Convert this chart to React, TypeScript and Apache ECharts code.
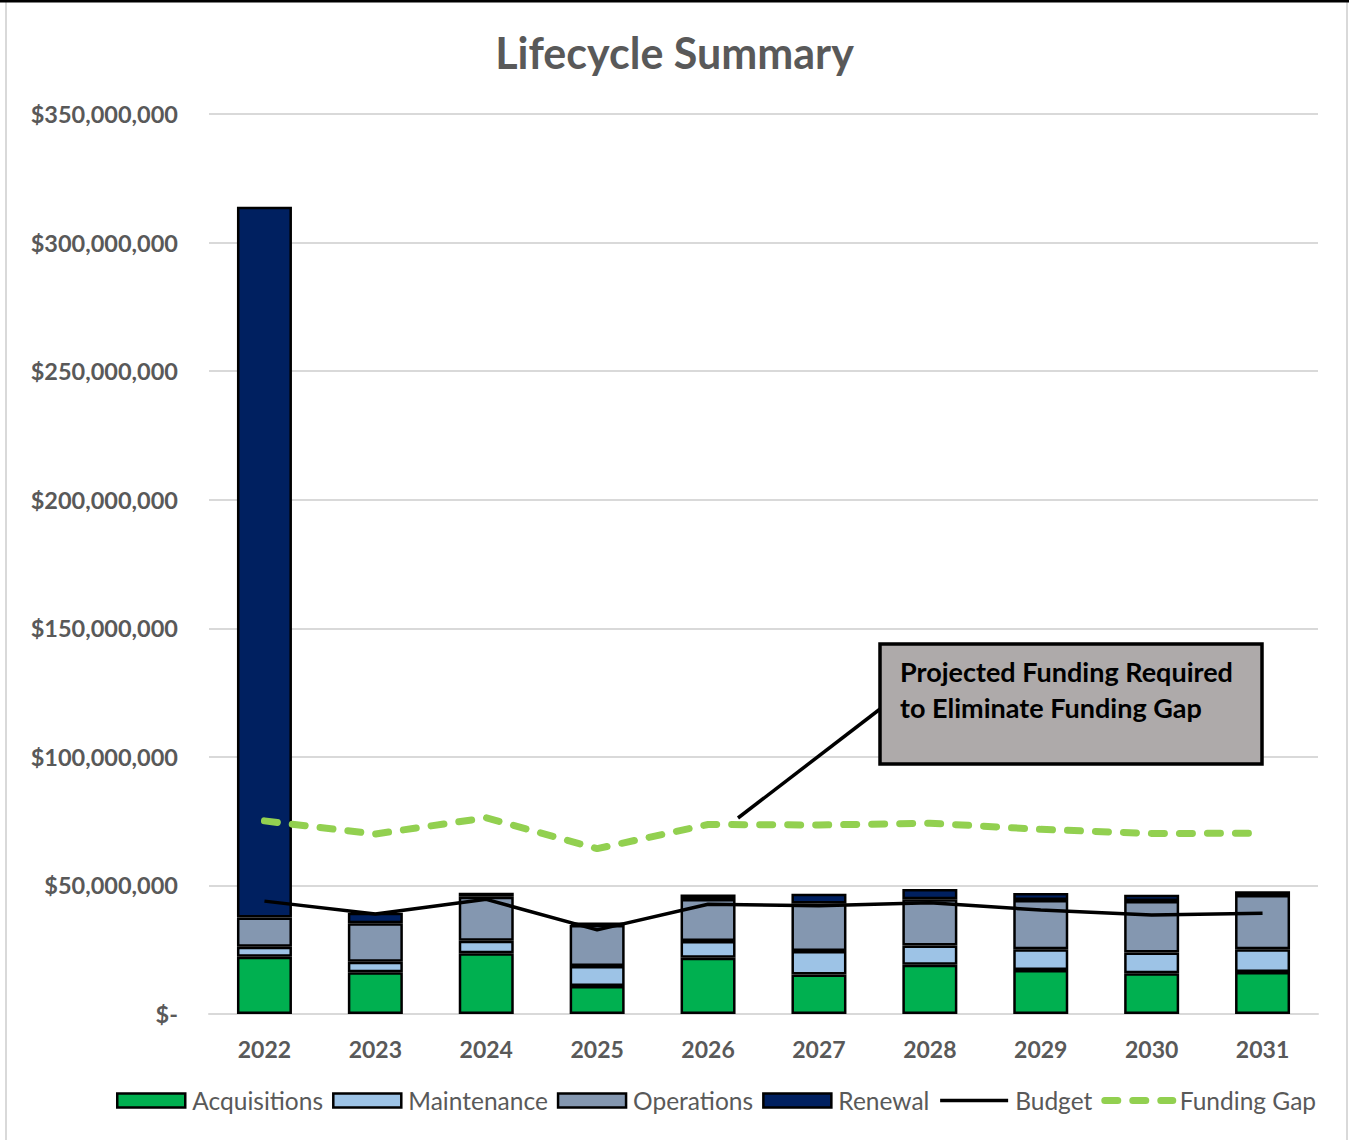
import React, { useEffect, useRef } from "react";
import * as echarts from "echarts";

const years = ["2022", "2023", "2024", "2025", "2026", "2027", "2028", "2029", "2030", "2031"];

// Stacked cost components, in dollars
const acquisitions = [22300000, 16200000, 23600000, 10900000, 21900000, 15400000, 19200000, 17100000, 15800000, 16300000];
const maintenance = [3900000, 4100000, 4900000, 7800000, 6500000, 9100000, 7400000, 8100000, 8100000, 8900000];
const operations = [11300000, 15000000, 17100000, 15900000, 16300000, 18500000, 18000000, 19100000, 20000000, 21100000];
const renewal = [276400000, 4100000, 1600000, 900000, 1800000, 3800000, 4000000, 2800000, 2500000, 1400000];

// Lines
const budget = [43900000, 38900000, 44600000, 32700000, 42700000, 42100000, 43300000, 40400000, 38500000, 39200000];
const fundingGap = [75100000, 70000000, 76300000, 64300000, 73700000, 73500000, 74200000, 71800000, 70200000, 70300000];

const axisTicks = { min: 0, max: 350000000, interval: 50000000 };

const FONT = "Lato, 'Open Sans', sans-serif";
const GREY_TEXT = "#595959";

const COLORS = {
  acquisitions: "#00b050",
  maintenance: "#9dc3e6",
  operations: "#8497b0",
  renewal: "#002060",
  budget: "#000000",
  gap: "#92d050",
};

const gapDash = [13, 15];

function formatDollars(v: number): string {
  if (v === 0) return "$-";
  return "$" + v.toLocaleString("en-US");
}

export default function App() {
  const ref = useRef<HTMLDivElement>(null);

  useEffect(() => {
    if (!ref.current) return;
    const chart = echarts.init(ref.current, null, { renderer: "svg" });

    const barSeries = (name: string, data: number[], color: string) => ({
      name,
      type: "bar",
      stack: "cost",
      data,
      barWidth: 55,
      itemStyle: { color, borderColor: "#000000", borderWidth: 2.5 },
      z: 2,
    });

    const barLegend = (name: string, color: string) => ({
      name,
      icon: "rect",
      itemStyle: { color, borderColor: "#000000", borderWidth: 2.5 },
    });

    const hiddenSymbol = { color: "rgba(0,0,0,0)", borderColor: "rgba(0,0,0,0)", borderWidth: 0 };

    chart.setOption({
      animation: false,
      backgroundColor: "#ffffff",
      title: {
        text: "Lifecycle Summary",
        left: "center",
        top: 26,
        textStyle: { fontFamily: FONT, fontSize: 43, fontWeight: "bold", color: GREY_TEXT },
      },
      grid: { left: 209, right: 31, top: 114, bottom: 126 },
      legend: {
        left: 111,
        top: 1083,
        itemWidth: 68,
        itemHeight: 14,
        itemGap: 9,
        textStyle: { fontFamily: FONT, fontSize: 24.5, color: GREY_TEXT, padding: [0, 0, 0, 2] },
        data: [
          barLegend("Acquisitions", COLORS.acquisitions),
          barLegend("Maintenance", COLORS.maintenance),
          barLegend("Operations", COLORS.operations),
          barLegend("Renewal", COLORS.renewal),
          {
            name: "Budget",
            itemStyle: hiddenSymbol,
            lineStyle: { color: COLORS.budget, width: 3.5, type: "solid" },
          },
          {
            name: "Funding Gap",
            itemStyle: hiddenSymbol,
            lineStyle: { color: COLORS.gap, width: 7, type: gapDash, cap: "round" },
          },
        ],
      },
      xAxis: {
        type: "category",
        data: years,
        axisLine: { show: true, lineStyle: { color: "#d9d9d9", width: 2 } },
        axisTick: { show: false },
        axisLabel: {
          fontFamily: FONT,
          fontSize: 23,
          fontWeight: "bold",
          color: GREY_TEXT,
          margin: 23,
        },
      },
      yAxis: {
        type: "value",
        min: axisTicks.min,
        max: axisTicks.max,
        interval: axisTicks.interval,
        axisLine: { show: false },
        axisTick: { show: false },
        splitLine: { lineStyle: { color: "#d9d9d9", width: 2 } },
        axisLabel: {
          fontFamily: FONT,
          fontSize: 23.5,
          fontWeight: "bold",
          color: GREY_TEXT,
          margin: 31,
          formatter: formatDollars,
        },
      },
      series: [
        barSeries("Acquisitions", acquisitions, COLORS.acquisitions),
        barSeries("Maintenance", maintenance, COLORS.maintenance),
        barSeries("Operations", operations, COLORS.operations),
        barSeries("Renewal", renewal, COLORS.renewal),
        {
          name: "Budget",
          type: "line",
          data: budget,
          symbol: "none",
          lineStyle: { color: COLORS.budget, width: 3.5 },
          itemStyle: { color: COLORS.budget },
          z: 5,
        },
        {
          name: "Funding Gap",
          type: "line",
          data: fundingGap,
          symbol: "none",
          lineStyle: { color: COLORS.gap, width: 7, type: gapDash, cap: "round" },
          itemStyle: { color: COLORS.gap },
          z: 5,
        },
      ],
      graphic: [
        // chart frame
        { type: "line", shape: { x1: 0, y1: 1, x2: 1349, y2: 1 }, style: { stroke: "#000000", lineWidth: 3 }, z: 10 },
        { type: "line", shape: { x1: 6, y1: 2, x2: 6, y2: 1140 }, style: { stroke: "#d9d9d9", lineWidth: 2 } },
        { type: "line", shape: { x1: 1347, y1: 2, x2: 1347, y2: 1140 }, style: { stroke: "#d9d9d9", lineWidth: 2 } },
        // callout pointer
        {
          type: "line",
          shape: { x1: 738, y1: 818, x2: 884, y2: 706 },
          style: { stroke: "#000000", lineWidth: 3.5 },
          z: 20,
        },
        // callout box
        {
          type: "rect",
          z: 21,
          shape: { x: 880, y: 644, width: 382, height: 120 },
          style: { fill: "#aeaaaa", stroke: "#000000", lineWidth: 3.5 },
        },
        {
          type: "text",
          z: 22,
          x: 900,
          y: 653,
          style: {
            text: "Projected Funding Required\nto Eliminate Funding Gap",
            font: `bold 27px ${FONT}`,
            fill: "#000000",
            lineHeight: 36,
          },
        },
      ],
    });

    return () => chart.dispose();
  }, []);

  return (
    <div
      ref={ref}
      style={{ position: "absolute", left: 0, top: 0, width: 1349, height: 1140 }}
    />
  );
}
